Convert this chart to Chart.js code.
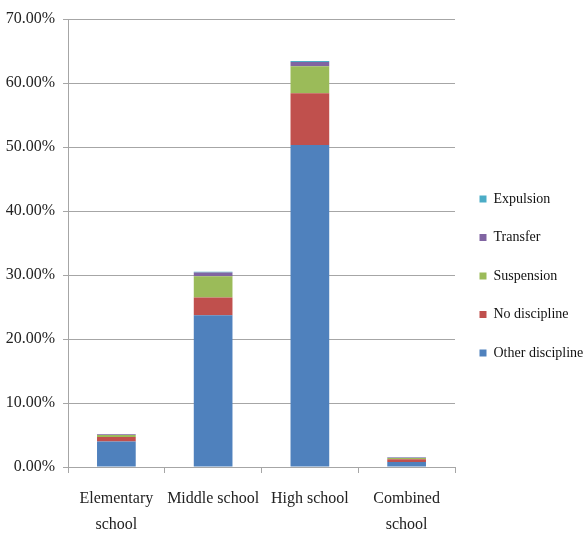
<!DOCTYPE html>
<html>
<head>
<meta charset="utf-8">
<script src="https://cdn.jsdelivr.net/npm/chart.js@4/dist/chart.umd.min.js"></script>
<style>
  html, body { margin: 0; padding: 0; background: #ffffff; }
  #wrap { width: 587px; height: 533px; }
</style>
</head>
<body>
<div id="wrap"><canvas id="c" width="587" height="533"></canvas></div>
<script>
// School levels (x categories)
const categories = [["Elementary", "school"], "Middle school", "High school", ["Combined", "school"]];

// Share of incidents by outcome, percent
const otherDiscipline = [4.0, 23.7, 50.3, 0.8];
const noDiscipline    = [0.7, 2.8, 8.1, 0.4];
const suspension      = [0.3, 3.3, 4.2, 0.2];
const transfer        = [0.1, 0.6, 0.7, 0.1];
const expulsion       = [0.02, 0.1, 0.15, 0.02];

// Y axis range
const yMin = 0, yMax = 70, yStep = 10;

const serif = "'Liberation Serif', 'Times New Roman', serif";
const gridGray = '#a6a6a6';

function series(label, data, color) {
  return { label, data, backgroundColor: color, borderWidth: 0,
           categoryPercentage: 1.0, barPercentage: 0.4 };
}

new Chart(document.getElementById('c'), {
  type: 'bar',
  data: {
    labels: categories,
    datasets: [
      series('Other discipline', otherDiscipline, '#4f81bd'),
      series('No discipline', noDiscipline, '#c0504d'),
      series('Suspension', suspension, '#9bbb59'),
      series('Transfer', transfer, '#8064a2'),
      series('Expulsion', expulsion, '#4bacc6')
    ]
  },
  options: {
    responsive: false,
    animation: false,
    layout: { padding: { top: 19, left: 0, right: 0, bottom: 0 } },
    plugins: {
      tooltip: { enabled: false },
      legend: {
        position: 'right',
        reverse: true,
        maxWidth: 132,
        labels: {
          boxWidth: 7, boxHeight: 7, padding: 24.5,
          color: '#111',
          font: { family: serif, size: 14 }
        }
      }
    },
    scales: {
      x: {
        stacked: true,
        afterFit: s => { s.height = 66; },
        border: { display: true, color: gridGray, width: 1 },
        grid: { display: true, drawOnChartArea: false, drawTicks: true, tickLength: 6, color: gridGray, offset: true },
        ticks: { color: '#222', padding: 12.5, maxRotation: 0, font: { family: serif, size: 16, lineHeight: 1.62 } }
      },
      y: {
        stacked: true,
        min: yMin, max: yMax,
        afterFit: s => { s.width = 68; },
        border: { display: true, color: gridGray, width: 1 },
        grid: { color: gridGray, lineWidth: 1, tickLength: 5 },
        ticks: {
          stepSize: yStep, color: '#222', padding: 8,
          font: { family: serif, size: 16 },
          callback: v => v.toFixed(2) + '%'
        }
      }
    }
  }
});
</script>
</body>
</html>
